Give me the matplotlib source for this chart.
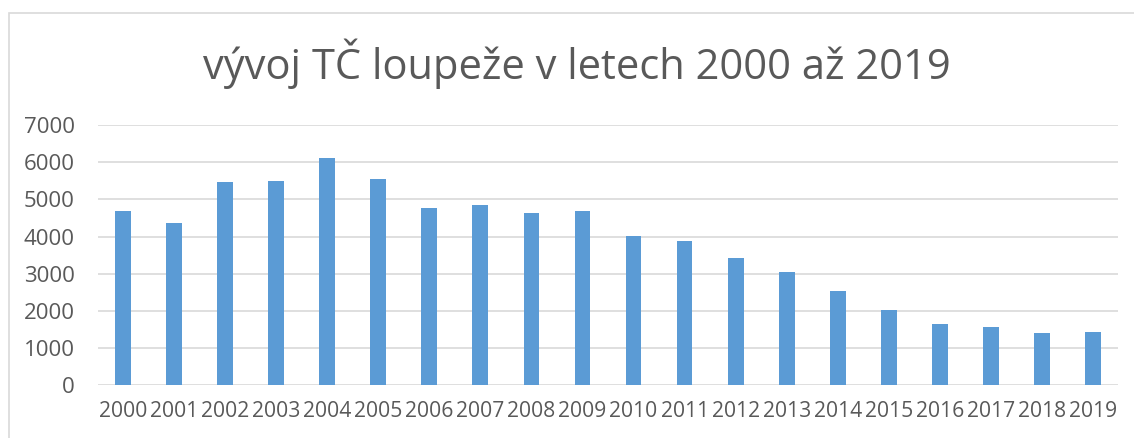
import matplotlib.pyplot as plt
import numpy as np
from matplotlib.patches import Rectangle

years = [str(y) for y in range(2000, 2020)]
counts = [4700, 4360, 5470, 5505, 6107, 5552, 4780, 4852, 4628, 4690,
          4009, 3874, 3417, 3040, 2538, 2018, 1641, 1578, 1408, 1444]
yticks = [0, 1000, 2000, 3000, 4000, 5000, 6000, 7000]

plt.rcParams['font.family'] = ['Open Sans', 'DejaVu Sans']
txt = '#595959'

fig = plt.figure(figsize=(11.34, 4.38), dpi=100)
# chart frame (cropped, only top and left visible)
fig.add_artist(Rectangle((9 / 1134, -0.1), 1.2, 1 - 13 / 438 + 0.1,
                         transform=fig.transFigure, fill=False,
                         edgecolor='#d9d9d9', linewidth=1.2))

ax = fig.add_axes([0.086, 0.1203, 0.9003, 0.5943])
x = np.arange(len(years))
ax.bar(x, counts, width=0.31, color='#5b9bd5', zorder=3)
ax.set_xlim(-0.5, len(years) - 0.5)
ax.set_ylim(0, 7000)
ax.set_yticks(yticks)
ax.set_yticklabels([str(v) for v in yticks])
ax.set_xticks(x)
ax.set_xticklabels(years)
ax.grid(axis='y', color='#d9d9d9', linewidth=1.2, zorder=0)
for s in ax.spines.values():
    s.set_visible(False)
ax.tick_params(axis='both', length=0, colors=txt, labelsize=16)
ax.tick_params(axis='x', labelsize=15.2)
ax.tick_params(axis='y', pad=16.5)
ax.tick_params(axis='x', pad=11)

fig.text(0.509, 0.855, 'vývoj TČ loupeže v letech 2000 až 2019',
         ha='center', va='center', fontsize=30, color=txt)

fig.savefig('out.png', dpi=100, facecolor='white')
